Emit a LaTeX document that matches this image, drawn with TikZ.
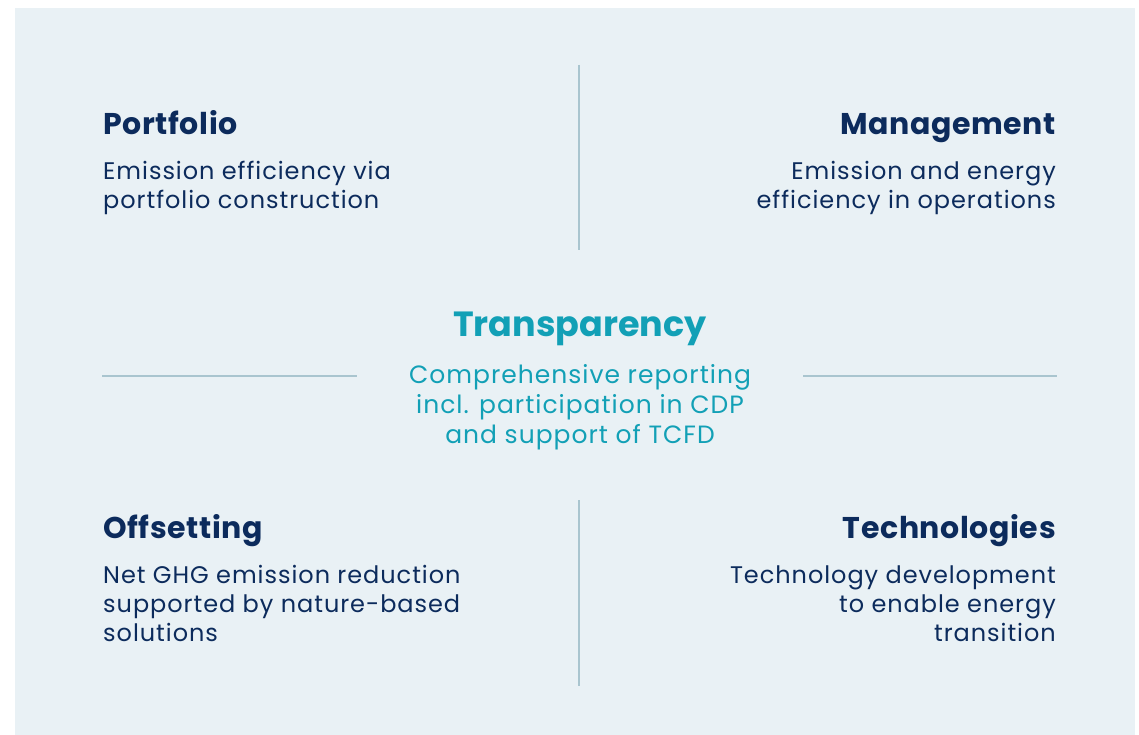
\documentclass[tikz,border=0pt]{standalone}
\usepackage{fontspec}
\setmainfont{Poppins}
\newfontfamily\spacedfont[LetterSpace=4]{Poppins}
\newfontfamily\headfont[LetterSpace=2]{Poppins}
\begin{document}
\definecolor{panelbg}{HTML}{E9F1F5}
\definecolor{navy}{HTML}{0C2B5C}
\definecolor{teal}{HTML}{12A0B6}
\definecolor{rule}{HTML}{A9C5CF}
\begin{tikzpicture}[x=1pt,y=-1pt,
  head/.style={inner sep=0pt, text=navy, font=\headfont\fontsize{30}{32}\selectfont\bfseries},
  body/.style={inner sep=0pt, text=navy, font=\spacedfont\fontsize{24}{29}\selectfont},
  divider/.style={draw=rule, line width=1.2pt}]
\useasboundingbox (0,0) rectangle (1139,735);
\fill[panelbg] (15,8) rectangle (1135,735);
% dividers
\coordinate (vt1) at (579,65);  \coordinate (vt2) at (579,250);
\coordinate (vb1) at (579,500); \coordinate (vb2) at (579,686);
\coordinate (hl1) at (102,376); \coordinate (hl2) at (357,376);
\coordinate (hr1) at (803,376); \coordinate (hr2) at (1057,376);
\draw[divider] (vt1) -- (vt2);
\draw[divider] (vb1) -- (vb2);
\draw[divider] (hl1) -- (hl2);
\draw[divider] (hr1) -- (hr2);
% quadrants (body nodes are placed by the baseline of their last line)
\node[head, anchor=base west] (portT) at (103,135) {Portfolio};
\node[body, anchor=base west, align=left] (portB) at (103,209) {Emission efficiency via\\portfolio construction};
\node[head, anchor=base east] (mgmtT) at (1056,135) {Management};
\node[body, anchor=base east, align=right] (mgmtB) at (1056,209) {Emission and energy\\efficiency in operations};
\node[head, anchor=base west] (offT) at (103,538) {Offsetting};
\node[body, anchor=base west, align=left] (offB) at (103,641) {Net GHG emission reduction\\supported by nature-based\\solutions};
\node[head, anchor=base east] (techT) at (1056,538) {Technologies};
\node[body, anchor=base east, align=right] (techB) at (1056,641) {Technology development\\to enable energy\\transition};
% centre
\node[head, text=teal, font=\fontsize{35}{37}\selectfont\bfseries, anchor=base] (trT) at (580,336) {Transparency};
\node[body, text=teal, font=\spacedfont\fontsize{25}{30}\selectfont, anchor=base, align=center] (trB) at (580,443) {Comprehensive reporting\\incl. participation in CDP\\and support of TCFD};
\end{tikzpicture}
\end{document}
